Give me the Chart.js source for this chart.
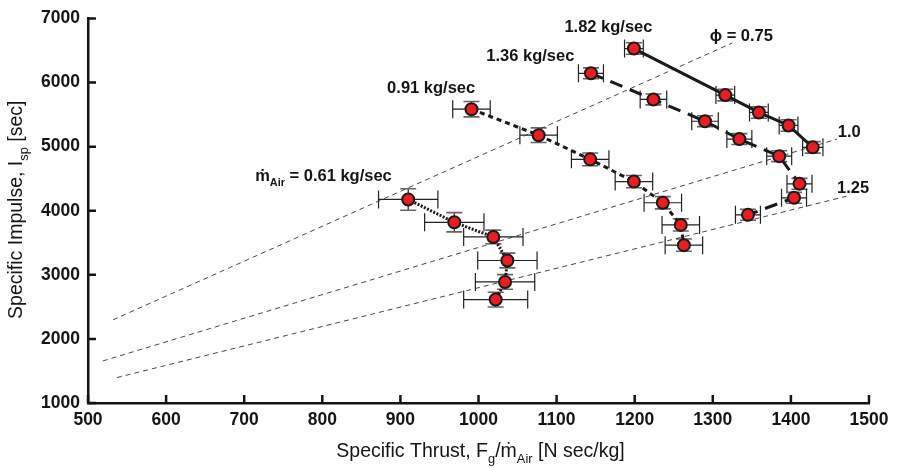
<!DOCTYPE html>
<html lang="en">
<head>
    <meta charset="UTF-8">
    <title>Specific Impulse vs Specific Thrust</title>
    <style>
        body {
            margin: 0;
            padding: 0;
            background-color: #fff;
        }
    </style>
</head>
<body>
<canvas id="ispChart" width="897" height="468"></canvas>
<script src="https://cdn.jsdelivr.net/npm/chart.js"></script>
<script>
    // Air mass flow 0.61 kg/sec
    const air061X = [910, 969, 1019, 1037, 1034, 1022];
    const air061Y = [4176, 3820, 3591, 3224, 2889, 2614];
    const air061XErr = [38, 38, 38, 38, 38, 41];
    const air061YErr = [168, 150, 107, 115, 115, 115];

    // Air mass flow 0.91 kg/sec
    const air091X = [991, 1077, 1143, 1199, 1236, 1259, 1263];
    const air091Y = [5585, 5179, 4802, 4455, 4125, 3779, 3463];
    const air091XErr = [24, 24, 24, 24, 24, 24, 24];
    const air091YErr = [120, 115, 100, 95, 95, 95, 95];

    // Air mass flow 1.36 kg/sec
    const air136X = [1144, 1224, 1290, 1334, 1385, 1411, 1404, 1345];
    const air136Y = [6145, 5737, 5397, 5118, 4852, 4420, 4202, 3936];
    const air136XErr = [16, 17, 17, 16, 16, 16, 16, 16];
    const air136YErr = [85, 85, 85, 85, 85, 85, 85, 85];

    // Air mass flow 1.82 kg/sec
    const air182X = [1199, 1316, 1359, 1397, 1428];
    const air182Y = [6531, 5805, 5534, 5331, 4989];
    const air182XErr = [12, 12, 12, 12, 13];
    const air182YErr = [90, 90, 90, 90, 90];

    // constant equivalence ratio lines
    const phi075X = [532, 1325];
    const phi075Y = [2298, 6618];
    const phi100X = [519, 1459];
    const phi100Y = [1656, 5118];
    const phi125X = [537, 1471];
    const phi125Y = [1397, 4226];

    const xTicks = [500, 600, 700, 800, 900, 1000, 1100, 1200, 1300, 1400, 1500];
    const yTicks = [1000, 2000, 3000, 4000, 5000, 6000, 7000];

    // text labels placed in data units
    const notes = [
        {parts: [{t: '1.82 kg/sec'}], x: 1110, y: 6878},
        {parts: [{t: 'ϕ = 0.75'}], x: 1296, y: 6740},
        {parts: [{t: '1.36 kg/sec'}], x: 1010, y: 6435},
        {parts: [{t: '0.91 kg/sec'}], x: 883, y: 5931},
        {parts: [{t: 'ṁ'}, {t: 'Air', sub: true}, {t: ' = 0.61 kg/sec'}], x: 714, y: 4557},
        {parts: [{t: '1.0'}], x: 1460, y: 5244},
        {parts: [{t: '1.25'}], x: 1459, y: 4374}
    ];

    const FONT = '"Liberation Sans", Arial, sans-serif';
    const INK = '#151515';
    const toPts = (xs, ys) => xs.map((x, i) => ({x: x, y: ys[i]}));

    function drawRich(ctx, parts, x, y, size, weight, align) {
        let w = 0;
        parts.forEach(p => {
            ctx.font = weight + ' ' + (p.sub ? size * 0.66 : size) + 'px ' + FONT;
            p.w = ctx.measureText(p.t).width;
            w += p.w;
        });
        let cx = align === 'center' ? x - w / 2 : x;
        ctx.textAlign = 'left';
        ctx.textBaseline = 'alphabetic';
        parts.forEach(p => {
            ctx.font = weight + ' ' + (p.sub ? size * 0.66 : size) + 'px ' + FONT;
            ctx.fillText(p.t, cx, p.sub ? y + size * 0.3 : y);
            cx += p.w;
        });
    }

    function series(xs, ys, xe, ye, dash) {
        return {
            data: toPts(xs, ys),
            xErr: xe,
            yErr: ye,
            showLine: true,
            borderColor: '#1a1a1a',
            borderWidth: 3,
            borderDash: dash,
            pointRadius: 6,
            pointBackgroundColor: '#ed1c24',
            pointBorderColor: '#1a1a1a',
            pointBorderWidth: 2,
            order: 0
        };
    }

    function phiLine(xs, ys) {
        return {
            data: toPts(xs, ys),
            showLine: true,
            borderColor: '#333',
            borderWidth: 0.9,
            borderDash: [5, 4],
            pointRadius: 0,
            order: 10
        };
    }

    // error bars drawn under the lines and markers
    const errorBars = {
        id: 'errorBars',
        beforeDatasetsDraw(chart) {
            const ctx = chart.ctx;
            const xs = chart.scales.x, ys = chart.scales.y;
            ctx.save();
            chart.data.datasets.forEach(ds => {
                if (!ds.xErr) return;
                ds.data.forEach((p, i) => {
                    const px = xs.getPixelForValue(p.x), py = ys.getPixelForValue(p.y);
                    const x0 = xs.getPixelForValue(p.x - ds.xErr[i]);
                    const x1 = xs.getPixelForValue(p.x + ds.xErr[i]);
                    const y0 = ys.getPixelForValue(p.y - ds.yErr[i]);
                    const y1 = ys.getPixelForValue(p.y + ds.yErr[i]);
                    ctx.strokeStyle = '#222';
                    ctx.lineWidth = 1.2;
                    ctx.beginPath();
                    ctx.moveTo(x0, py); ctx.lineTo(x1, py);
                    ctx.moveTo(x0, py - 9); ctx.lineTo(x0, py + 9);
                    ctx.moveTo(x1, py - 9); ctx.lineTo(x1, py + 9);
                    ctx.moveTo(px, y0); ctx.lineTo(px, y1);
                    ctx.stroke();
                    ctx.strokeStyle = '#666';
                    ctx.lineWidth = 1.6;
                    ctx.beginPath();
                    ctx.moveTo(px - 8, y0); ctx.lineTo(px + 8, y0);
                    ctx.moveTo(px - 8, y1); ctx.lineTo(px + 8, y1);
                    ctx.stroke();
                });
            });
            ctx.restore();
        }
    };

    // inward tick marks, annotations and axis titles
    const decorations = {
        id: 'decorations',
        afterDraw(chart) {
            const ctx = chart.ctx;
            const xs = chart.scales.x, ys = chart.scales.y;
            const area = chart.chartArea;
            ctx.save();
            ctx.strokeStyle = INK;
            ctx.lineWidth = 2.5;
            ctx.beginPath();
            xTicks.forEach(v => {
                const px = xs.getPixelForValue(v);
                ctx.moveTo(px, area.bottom);
                ctx.lineTo(px, area.bottom - 8);
            });
            yTicks.forEach(v => {
                const py = ys.getPixelForValue(v);
                ctx.moveTo(area.left, py);
                ctx.lineTo(area.left + 8, py);
            });
            ctx.stroke();

            ctx.fillStyle = INK;
            notes.forEach(n => {
                drawRich(ctx, n.parts, xs.getPixelForValue(n.x), ys.getPixelForValue(n.y) + 5.8, 16.5, 'bold', 'left');
            });

            // x axis title
            drawRich(ctx, [
                {t: 'Specific Thrust, F'}, {t: 'g', sub: true}, {t: '/ṁ'}, {t: 'Air', sub: true},
                {t: ' [N sec/kg]'}
            ], (area.left + area.right) / 2 + 2, 457, 19.5, 'normal', 'center');

            // y axis title
            ctx.translate(15, (area.top + area.bottom) / 2 - 1);
            ctx.rotate(-Math.PI / 2);
            drawRich(ctx, [
                {t: 'Specific Impulse, I'}, {t: 'sp', sub: true}, {t: ' [sec]'}
            ], 0, 7, 19.5, 'normal', 'center');
            ctx.restore();
        }
    };

    new Chart(document.getElementById('ispChart').getContext('2d'), {
        type: 'scatter',
        data: {
            datasets: [
                phiLine(phi075X, phi075Y),
                phiLine(phi100X, phi100Y),
                phiLine(phi125X, phi125Y),
                series(air061X, air061Y, air061XErr, air061YErr, [2, 1.5]),
                series(air091X, air091Y, air091XErr, air091YErr, [5, 4]),
                series(air136X, air136Y, air136XErr, air136YErr, [13, 8]),
                series(air182X, air182Y, air182XErr, air182YErr, [])
            ]
        },
        options: {
            responsive: false,
            animation: false,
            layout: {padding: {top: 10, right: 28, left: 0, bottom: 0}},
            plugins: {
                legend: {display: false},
                tooltip: {enabled: false}
            },
            scales: {
                x: {
                    type: 'linear',
                    min: 500,
                    max: 1500,
                    afterFit: s => { s.height = 65; },
                    afterBuildTicks: s => { s.ticks = xTicks.map(v => ({value: v})); },
                    grid: {display: false, drawTicks: false},
                    border: {display: true, color: INK, width: 2.5},
                    ticks: {
                        padding: 7,
                        color: INK,
                        maxRotation: 0,
                        autoSkip: false,
                        callback: v => String(v),
                        font: {family: FONT, size: 17.5, weight: 'bold'}
                    }
                },
                y: {
                    type: 'linear',
                    min: 1000,
                    max: 7000,
                    afterFit: s => { s.width = 88; },
                    afterBuildTicks: s => { s.ticks = yTicks.map(v => ({value: v})); },
                    grid: {display: false, drawTicks: false},
                    border: {display: true, color: INK, width: 2.5},
                    ticks: {
                        padding: 8,
                        color: INK,
                        autoSkip: false,
                        callback: v => String(v),
                        font: {family: FONT, size: 17.5, weight: 'bold'}
                    }
                }
            }
        },
        plugins: [errorBars, decorations]
    });
</script>
</body>
</html>
